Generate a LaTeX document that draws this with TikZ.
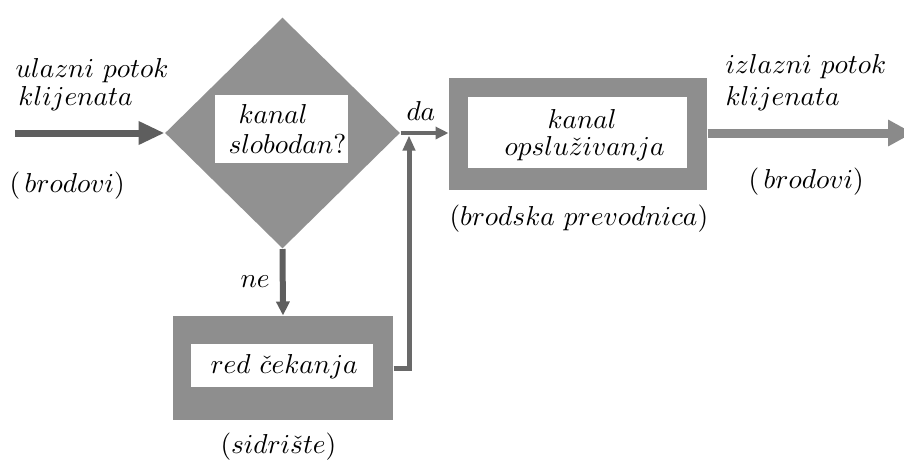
\documentclass[tikz,border=0pt]{standalone}
\usepackage{fontspec}
\usetikzlibrary{shapes.geometric,arrows.meta}
\definecolor{shapegray}{HTML}{919191}
\definecolor{boxgray}{HTML}{8E8E8E}
\definecolor{darkarrow}{HTML}{5E5E5E}
\definecolor{midarrow}{HTML}{696969}
\definecolor{outarrow}{HTML}{8A8A8A}
\tikzset{
  lbl/.style={inner sep=0pt, anchor=base west, font=\fontsize{11.2}{14}\selectfont},
  outerbox/.style={fill=boxgray, draw=none, inner sep=0pt, rectangle},
  innerbox/.style={fill=white, draw=none, inner sep=0pt, rectangle},
}
\begin{document}
\begin{tikzpicture}[x=0.4pt,y=-0.4pt]
\useasboundingbox (0,0) rectangle (904,468);
\clip (0,0) rectangle (904,468);
\fill[white] (0,0) rectangle (904,468);
% shapes
\node[diamond, fill=shapegray, draw=none, inner sep=0pt, minimum width=94pt, minimum height=92.4pt] (dec) at (282.5,133) {};
\node[innerbox, minimum width=53.2pt, minimum height=27.2pt] (decw) at (281.5,129) {};
\node[outerbox, minimum width=103.2pt, minimum height=44.8pt] (srv) at (578,134) {};
\node[innerbox, minimum width=87.6pt, minimum height=28.4pt] (srvw) at (577.5,132.5) {};
\node[outerbox, minimum width=88pt, minimum height=41.6pt] (que) at (283,368) {};
\node[innerbox, minimum width=72.8pt, minimum height=17.2pt] (quew) at (282,365.5) {};
\coordinate (inS) at (15,133);
\coordinate (outE) at (913,133);
\coordinate (fb) at (409,135.5);
% connectors
\draw[darkarrow, line width=2.8pt, -{Triangle[length=10.4pt,width=8.8pt]}] (inS) -- (dec.west);
\draw[midarrow, line width=1.6pt, -{Triangle[length=5.2pt,width=4.8pt]}] (dec.east) -- (dec.east -| srv.west);
\draw[outarrow, line width=3.6pt, -{Triangle[length=10pt,width=10pt]}] (srv.east |- outE) -- (outE);
\draw[darkarrow, line width=2.4pt, -{Triangle[length=5.6pt,width=5.2pt]}] (dec.south) -- (que.north);
\draw[midarrow, line width=2pt, -{Triangle[length=6pt,width=4.8pt]}] (que.east) -| (fb);
% labels
\node[lbl] (t1) at (15,77) {$ulazni\ potok$};
\node[lbl] (t2) at (18,105) {$klijenata$};
\node[lbl] (t3) at (9,192) {$(\,brodovi)$};
\node[lbl] (t4) at (238,123) {$kanal$};
\node[lbl] (t5) at (228,153) {$slobodan?$};
\node[lbl] (t6) at (406,120) {$da$};
\node[lbl] (t7) at (547,128) {$kanal$};
\node[lbl] (t8) at (504,155) {$opslu\check{z}ivanja$};
\node[lbl] (t9) at (449,225) {$(brodska\ prevodnica)$};
\node[lbl] (t10) at (725,73) {$izlazni\ potok$};
\node[lbl] (t11) at (725,105) {$klijenata$};
\node[lbl] (t12) at (748,188) {$(\,brodovi)$};
\node[lbl] (t13) at (240,287) {$ne$};
\node[lbl] (t14) at (210,373) {$red\ \check{c}ekanja$};
\node[lbl] (t15) at (220,453) {$(sidri\check{s}te)$};
\end{tikzpicture}
\end{document}
